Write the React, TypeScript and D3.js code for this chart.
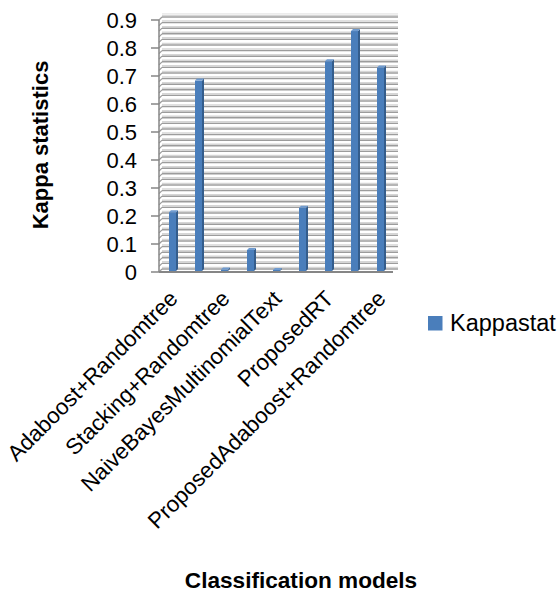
import React from "react";
import * as d3 from "d3";

const categories = [
  "Adaboost+Randomtree",
  "",
  "Stacking+Randomtree",
  "",
  "NaiveBayesMultinomialText",
  "",
  "ProposedRT",
  "",
  "ProposedAdaboost+Randomtree",
];
const kappaValues = [0.21, 0.68, 0.005, 0.075, 0.004, 0.226, 0.749, 0.857, 0.727];
const yTicks = [0, 0.1, 0.2, 0.3, 0.4, 0.5, 0.6, 0.7, 0.8, 0.9];
const seriesName = "Kappastat";
const yTitle = "Kappa statistics";
const xTitle = "Classification models";

const W = 559;
const H = 592;
const FONT = "'Liberation Sans', Arial, sans-serif";

export default function App() {
  const x = d3
    .scaleBand<number>()
    .domain(categories.map((_, i) => i))
    .range([159, 393])
    .paddingInner(0)
    .paddingOuter(0);
  const y = d3.scaleLinear().domain([0, 0.9]).range([272, 20]);

  const dx = 3;
  const dy = 3;
  const gridVals = d3.range(0, 46).map((i) => +(i * 0.02).toFixed(2));
  const barW = 7;
  const bdx = 2;
  const bdy = 2;

  return (
    <svg
      width={W}
      height={H}
      style={{ position: "fixed", left: 0, top: 0, background: "#fff" }}
      fontFamily={FONT}
    >
      <rect x={0} y={0} width={W} height={H} fill="#fff" />
      {/* back wall gridlines */}
      <g>
        {gridVals.map((v, i) => {
          const yy = y(v);
          return (
            <g key={i}>
              <line x1={x.range()[0] + dx} x2={x.range()[1] + 5} y1={yy - dy - 1.6} y2={yy - dy - 1.6} stroke="#d6d6d6" strokeWidth={1.4} />
              <line x1={x.range()[0] + dx} x2={x.range()[1] + 5} y1={yy - dy} y2={yy - dy} stroke="#9c9c9c" strokeWidth={1.4} />
              <line x1={x.range()[0]} x2={x.range()[0] + dx} y1={yy} y2={yy - dy} stroke="#9c9c9c" strokeWidth={1.2} />
            </g>
          );
        })}
        <line x1={x.range()[0] + dx} x2={x.range()[1] + 5} y1={y(0.9) - dy - 3.2} y2={y(0.9) - dy - 3.2} stroke="#ececec" strokeWidth={1.4} />
      </g>
      {/* y axis */}
      <line x1={159} x2={159} y1={y(0.9)} y2={y(0)} stroke="#868686" strokeWidth={1.5} />
      {yTicks.map((t) => (
        <g key={t}>
          <line x1={151} x2={159} y1={y(t)} y2={y(t)} stroke="#868686" strokeWidth={1.5} />
          <text x={137} y={y(t)} dy="0.36em" textAnchor="end" fontSize={22} fill="#000">
            {t === 0 ? "0" : t.toFixed(1)}
          </text>
        </g>
      ))}
      {/* bars */}
      {kappaValues.map((v, i) => {
        const x0 = (x(i) as number) + (x.bandwidth() - barW) / 2 + 0.5;
        const yt = y(v) - 1;
        const yb = y(0) - 1;
        return (
          <g key={i}>
            <rect x={x0} y={yt} width={barW} height={Math.max(0.5, yb - yt)} fill="#4a7ebb" />
            <polygon
              points={`${x0 + barW},${yt} ${x0 + barW + bdx},${yt - bdy} ${x0 + barW + bdx},${yb - bdy} ${x0 + barW},${yb}`}
              fill="#345d8c"
            />
            <polygon
              points={`${x0},${yt} ${x0 + barW},${yt} ${x0 + barW + bdx},${yt - bdy} ${x0 + bdx},${yt - bdy}`}
              fill="#6f9bd0"
            />
          </g>
        );
      })}
      {/* x axis */}
      <line x1={159} x2={393} y1={y(0)} y2={y(0)} stroke="#868686" strokeWidth={1.8} />
      {categories.map((c, i) =>
        c ? (
          <text
            key={i}
            transform={`translate(${(x(i) as number) + x.bandwidth() / 2 + 7},${300}) rotate(-45)`}
            textAnchor="end"
            fontSize={22.3}
            fill="#000"
          >
            {c}
          </text>
        ) : null
      )}
      {/* axis titles */}
      <text
        transform={`translate(48,145) rotate(-90)`}
        textAnchor="middle"
        fontSize={22}
        fontWeight="bold"
        fill="#000"
      >
        {yTitle}
      </text>
      <text x={301} y={588} textAnchor="middle" fontSize={22.6} fontWeight="bold" fill="#000">
        {xTitle}
      </text>
      {/* legend */}
      <rect x={428} y={316} width={14.5} height={14.5} fill="#4a7ebb" />
      <text x={450} y={331} fontSize={23.5} fill="#000">
        {seriesName}
      </text>
    </svg>
  );
}
